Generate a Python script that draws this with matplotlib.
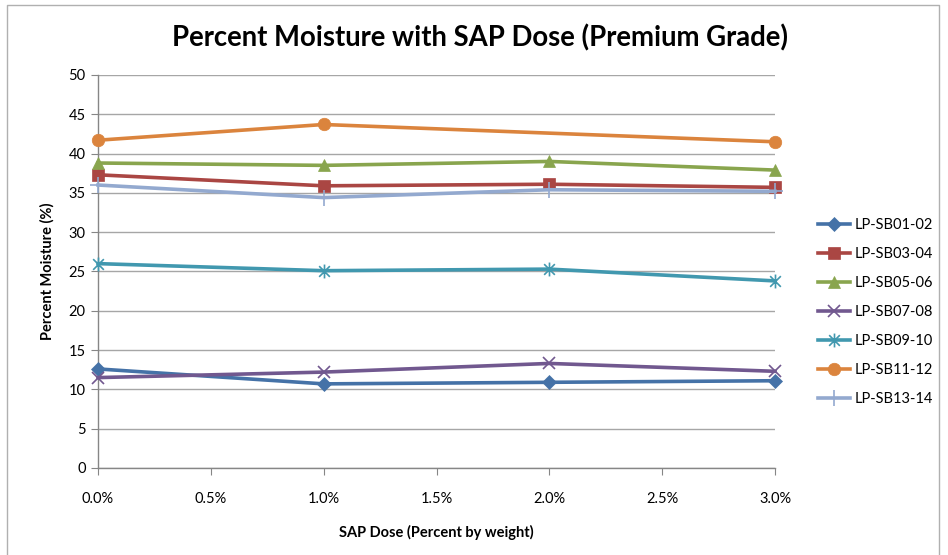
import numpy as np
import matplotlib
matplotlib.use("Agg")
import matplotlib.pyplot as plt
from matplotlib.path import Path
from matplotlib.lines import Line2D

plt.rcParams['font.family'] = ['Lato', 'DejaVu Sans']

# SAP dose (percent by weight) and moisture readings per sample pair
doses = [0.0, 1.0, 2.0, 3.0]
series_names = ["LP-SB01-02", "LP-SB03-04", "LP-SB05-06", "LP-SB07-08",
                "LP-SB09-10", "LP-SB11-12", "LP-SB13-14"]
sb01_02 = [12.6, 10.7, 10.9, 11.1]
sb03_04 = [37.3, 35.9, 36.1, 35.7]
sb05_06 = [38.8, 38.5, 39.0, 37.9]
sb07_08 = [11.5, 12.2, 13.3, 12.3]
sb09_10 = [26.0, 25.1, 25.3, 23.8]
sb11_12 = [41.7, 43.7, None, 41.5]
sb13_14 = [36.0, 34.4, 35.4, 35.2]
values = [sb01_02, sb03_04, sb05_06, sb07_08, sb09_10, sb11_12, sb13_14]

x_ticks = [0.0, 0.5, 1.0, 1.5, 2.0, 2.5, 3.0]
x_ticklabels = ["0.0%", "0.5%", "1.0%", "1.5%", "2.0%", "2.5%", "3.0%"]
y_ticks = [0, 5, 10, 15, 20, 25, 30, 35, 40, 45, 50]

colors = ['#4572A7', '#AA4643', '#89A54E', '#71588F', '#4198AF', '#DB843D', '#93A9CF']

# asterisk marker: an X with a vertical stroke through it
star_path = Path([(-1, -1), (1, 1), (-1, 1), (1, -1), (0, -1.3), (0, 1.3)],
                 [Path.MOVETO, Path.LINETO, Path.MOVETO, Path.LINETO, Path.MOVETO, Path.LINETO])
markers = ['D', 's', '^', 'x', star_path, 'o', '+']
msizes = [7, 8, 8, 9, 10, 9, 11]

fig = plt.figure(figsize=(9.48, 5.55), dpi=100)
ax = fig.add_axes([0.1034, 0.1568, 0.7141, 0.7081])

handles = []
for name, vals, c, m, ms in zip(series_names, values, colors, markers, msizes):
    xs = [d for d, v in zip(doses, vals) if v is not None]
    ys = [v for v in vals if v is not None]
    filled = m in ('D', 's', '^', 'o')
    ln, = ax.plot(xs, ys, color=c, lw=2.6, marker=m, ms=ms,
                  markerfacecolor=c if filled else 'none',
                  markeredgecolor=c, markeredgewidth=1.2 if not filled else 0.5,
                  label=name, zorder=3, solid_joinstyle='round', clip_on=False)
    handles.append(ln)

ax.set_xlim(0, 3.0)
ax.set_ylim(0, 50)
ax.set_xticks(x_ticks)
ax.set_xticklabels(x_ticklabels)
ax.set_yticks(y_ticks)
ax.yaxis.grid(True, color='#a6a6a6', lw=1.0, zorder=0)
ax.set_axisbelow(True)
for side in ('top', 'right'):
    ax.spines[side].set_visible(False)
for side in ('left', 'bottom'):
    ax.spines[side].set_color('#868686')
    ax.spines[side].set_linewidth(1.0)
ax.tick_params(axis='both', direction='out', length=5, color='#868686',
               labelsize=10.5, labelcolor='black')
ax.tick_params(axis='x', pad=12)
ax.tick_params(axis='y', pad=4)

ax.set_xlabel("SAP Dose (Percent by weight)", fontsize=10.5, fontweight='bold', labelpad=14)
ax.set_ylabel("Percent Moisture (%)", fontsize=10.5, fontweight='bold', labelpad=10)
fig.text(0.5065, 0.932, "Percent Moisture with SAP Dose (Premium Grade)",
         ha='center', va='center', fontsize=19.8, fontweight='bold')

leg = fig.legend(handles=handles, loc='upper left', bbox_to_anchor=(0.857, 0.617),
                 frameon=False, fontsize=10.5, handlelength=2.2, handletextpad=0.3,
                 labelspacing=1.02, borderaxespad=0)

# outer chart frame
frame = Line2D([0.0075, 0.0075, 0.991, 0.991], [0.0, 0.991, 0.991, 0.0],
               transform=fig.transFigure, color='#b0b0b0', lw=1.0)
fig.add_artist(frame)

fig.savefig("out.png", dpi=100)
